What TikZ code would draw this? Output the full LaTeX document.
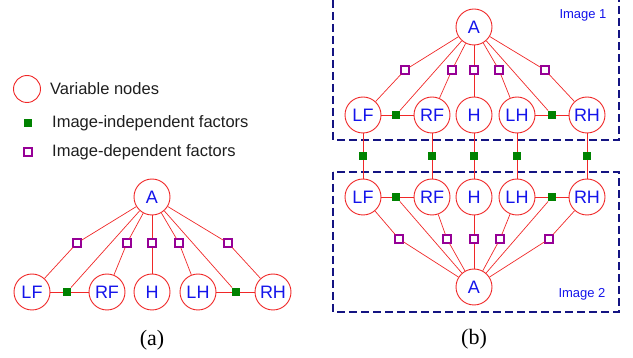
\documentclass[tikz,border=0pt]{standalone}
\usepackage{fontspec}
\setmainfont{Liberation Sans}
\newfontfamily\capfont{Liberation Serif}
\definecolor{edgered}{RGB}{240,40,40}
\definecolor{txtblue}{RGB}{20,20,235}
\definecolor{navy}{RGB}{20,20,130}
\definecolor{fpurple}{RGB}{150,0,150}
\definecolor{fgreen}{RGB}{0,130,0}
\definecolor{legtxt}{RGB}{30,30,30}
\begin{document}
\begin{tikzpicture}[x=1pt,y=-1pt,
  var/.style={circle,draw=edgered,line width=0.9pt,minimum size=36pt,inner sep=0pt,
    font=\fontsize{18}{18}\selectfont,text=txtblue,fill=white},
  ifac/.style={rectangle,fill=fgreen,minimum size=8.5pt,inner sep=0pt},
  dfac/.style={rectangle,draw=fpurple,line width=1.6pt,fill=white,minimum size=7.5pt,inner sep=0pt},
  edge/.style={draw=edgered,line width=0.7pt},
  imgbox/.style={draw=navy,dash pattern=on 8pt off 4pt,line width=1.3pt},
  legend/.style={anchor=west,inner sep=0pt,text=legtxt,font=\fontsize{16.5}{16.5}\selectfont},
  imglabel/.style={inner sep=0pt,text=txtblue,font=\fontsize{13}{13}\selectfont},
  caption/.style={inner sep=0pt,font=\capfont\fontsize{22}{22}\selectfont}]
\useasboundingbox (0,0) rectangle (633,358);

% ---------- legend ----------
\node[var,minimum size=27pt] (lv) at (27,89) {};
\node[legend] (lt1) at (50,89) {Variable nodes};
\node[ifac] (lg) at (28,123) {};
\node[legend] (lt2) at (52,123) {Image-independent factors};
\node[dfac] (lp) at (28,152) {};
\node[legend] (lt3) at (52,152) {Image-dependent factors};

% ---------- (a) ----------
\node[var] (aA) at (152,197) {A};
\node[var] (aLF) at (32,292) {LF};
\node[var] (aRF) at (107,292) {RF};
\node[var] (aH) at (152,292) {H};
\node[var] (aLH) at (198,292) {LH};
\node[var] (aRH) at (273,292) {RH};
\node[ifac] (ag1) at (67,292) {};
\node[ifac] (ag2) at (236,292) {};
\node[dfac] (ap1) at (77,243) {};
\node[dfac] (ap2) at (127,243) {};
\node[dfac] (ap3) at (152,243) {};
\node[dfac] (ap4) at (179,243) {};
\node[dfac] (ap5) at (228,243) {};
\path[edge] (aA) -- (ap1) -- (aLF);
\path[edge] (aA) -- (ap2) -- (aRF);
\path[edge] (aA) -- (ap3) -- (aH);
\path[edge] (aA) -- (ap4) -- (aLH);
\path[edge] (aA) -- (ap5) -- (aRH);
\path[edge] (aA) -- (ag1);
\path[edge] (aA) -- (ag2);
\path[edge] (aLF) -- (ag1) -- (aRF);
\path[edge] (aLH) -- (ag2) -- (aRH);
\node[caption] (capa) at (152,340) {(a)};

% ---------- (b) boxes ----------
\coordinate (b1a) at (333,0);
\coordinate (b1b) at (333,140);
\coordinate (b1c) at (619,140);
\coordinate (b1d) at (619,0);
\path[imgbox] (b1a) -- (b1b) -- (b1c) -- (b1d);
\coordinate (b2a) at (333,172);
\coordinate (b2c) at (619,312);
\path[imgbox] (b2a) rectangle (b2c);
\node[imglabel] (im1) at (583,15) {Image 1};
\node[imglabel] (im2) at (582,294) {Image 2};

% ---------- (b) image 1 ----------
\node[var] (tA) at (474,27) {A};
\node[var] (tLF) at (363,115) {LF};
\node[var] (tRF) at (432,115) {RF};
\node[var] (tH) at (474,115) {H};
\node[var] (tLH) at (517,115) {LH};
\node[var] (tRH) at (587,115) {RH};
\node[ifac] (tg1) at (396,115) {};
\node[ifac] (tg2) at (552,115) {};
\node[dfac] (tp1) at (405,70) {};
\node[dfac] (tp2) at (452,70) {};
\node[dfac] (tp3) at (474,70) {};
\node[dfac] (tp4) at (499,70) {};
\node[dfac] (tp5) at (545,70) {};
\path[edge] (tA) -- (tp1) -- (tLF);
\path[edge] (tA) -- (tp2) -- (tRF);
\path[edge] (tA) -- (tp3) -- (tH);
\path[edge] (tA) -- (tp4) -- (tLH);
\path[edge] (tA) -- (tp5) -- (tRH);
\path[edge] (tA) -- (tg1);
\path[edge] (tA) -- (tg2);
\path[edge] (tLF) -- (tg1) -- (tRF);
\path[edge] (tLH) -- (tg2) -- (tRH);

% ---------- (b) image 2 ----------
\node[var] (uA) at (474,287) {A};
\node[var] (uLF) at (363,197) {LF};
\node[var] (uRF) at (432,197) {RF};
\node[var] (uH) at (474,197) {H};
\node[var] (uLH) at (517,197) {LH};
\node[var] (uRH) at (587,197) {RH};
\node[ifac] (ug1) at (396,197) {};
\node[ifac] (ug2) at (552,197) {};
\node[dfac] (up1) at (399,239) {};
\node[dfac] (up2) at (447,239) {};
\node[dfac] (up3) at (474,239) {};
\node[dfac] (up4) at (500,239) {};
\node[dfac] (up5) at (549,239) {};
\path[edge] (uA) -- (up1) -- (uLF);
\path[edge] (uA) -- (up2) -- (uRF);
\path[edge] (uA) -- (up3) -- (uH);
\path[edge] (uA) -- (up4) -- (uLH);
\path[edge] (uA) -- (up5) -- (uRH);
\path[edge] (uA) -- (ug1);
\path[edge] (uA) -- (ug2);
\path[edge] (uLF) -- (ug1) -- (uRF);
\path[edge] (uLH) -- (ug2) -- (uRH);

% ---------- between images ----------
\node[ifac] (mg1) at (363,156) {};
\node[ifac] (mg2) at (432,156) {};
\node[ifac] (mg3) at (474,156) {};
\node[ifac] (mg4) at (517,156) {};
\node[ifac] (mg5) at (587,156) {};
\path[edge] (tLF) -- (mg1) -- (uLF);
\path[edge] (tRF) -- (mg2) -- (uRF);
\path[edge] (tH) -- (mg3) -- (uH);
\path[edge] (tLH) -- (mg4) -- (uLH);
\path[edge] (tRH) -- (mg5) -- (uRH);
\node[caption] (capb) at (474,339) {(b)};
\end{tikzpicture}
\end{document}
